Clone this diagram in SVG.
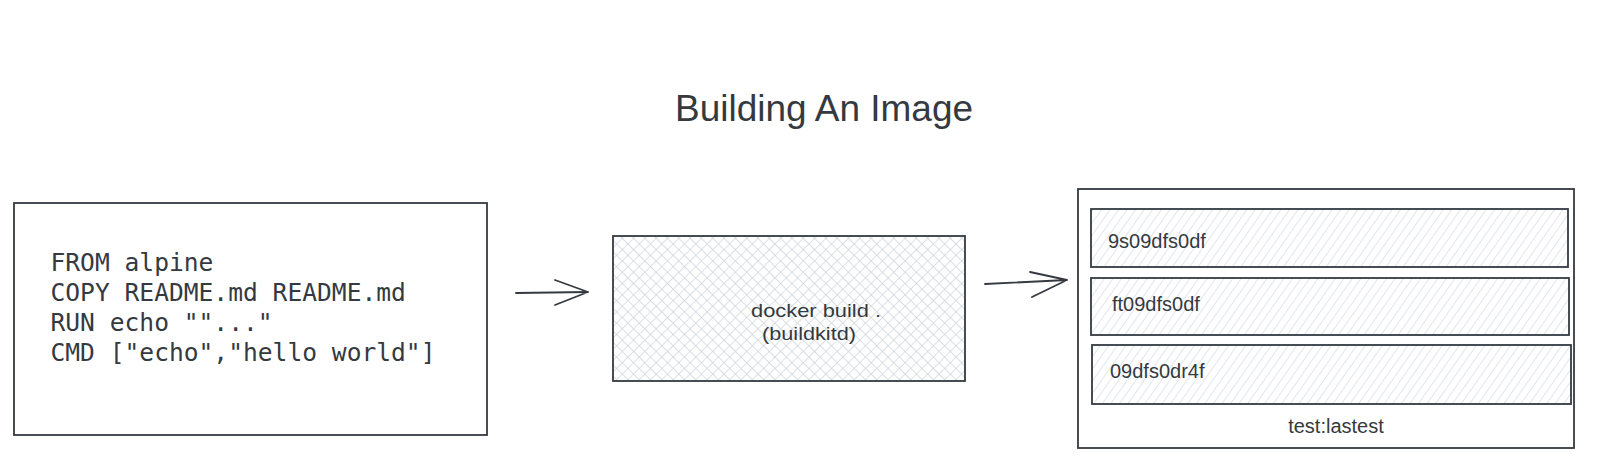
<svg xmlns="http://www.w3.org/2000/svg" width="1600" height="472" viewBox="0 0 1600 472">
  <style>
    .box { fill: none; stroke: #343a40; stroke-width: 1.8; }
    .conn { fill: none; stroke: #343a40; stroke-width: 1.8; stroke-linecap: round; stroke-linejoin: round; }
    .mono { font-family: "DejaVu Sans Mono", "Liberation Mono", monospace; font-size: 24.6px; fill: #343a40; }
    .hand { font-family: "Liberation Sans", "DejaVu Sans", sans-serif; fill: #343a40; }
    .lbl { font-family: "Liberation Sans", Arial, sans-serif; font-size: 20px; fill: #343a40; }
  </style>
  <defs>
    <pattern id="cross" width="8" height="8" patternUnits="userSpaceOnUse" patternTransform="rotate(45)">
      <path d="M0 0 V8 M0 0 H8" stroke="#ced4da" stroke-width="1.4" fill="none"/>
    </pattern>
    <pattern id="diag" width="7" height="7" patternUnits="userSpaceOnUse" patternTransform="rotate(35)">
      <path d="M0 0 V7" stroke="#ced4da" stroke-width="1.2" fill="none"/>
    </pattern>
  </defs>
  <rect width="1600" height="472" fill="#ffffff"/>

  <g id="title">
    <text class="hand" x="675" y="121" font-size="36" textLength="298" lengthAdjust="spacingAndGlyphs">Building An Image</text>
  </g>

  <g id="dockerfile">
    <rect class="box" x="14" y="203" width="473" height="232"/>
    <text class="mono" x="50.5" y="271">FROM alpine</text>
    <text class="mono" x="50.5" y="300.5">COPY README.md README.md</text>
    <text class="mono" x="50.5" y="330.5">RUN echo ""..."</text>
    <text class="mono" x="50.5" y="360.5">CMD ["echo","hello world"]</text>
  </g>

  <g id="build">
    <rect x="613" y="236" width="352" height="145" fill="url(#cross)" stroke="#343a40" stroke-width="1.8"/>
    <text class="hand" x="751" y="317" font-size="19" textLength="130" lengthAdjust="spacingAndGlyphs">docker build .</text>
    <text class="hand" x="762" y="340" font-size="19" textLength="94" lengthAdjust="spacingAndGlyphs">(buildkitd)</text>
  </g>

  <g id="image">
    <rect class="box" x="1078" y="189" width="496" height="259"/>
    <text class="lbl" x="1336" y="433" text-anchor="middle">test:lastest</text>
  </g>

  <g id="layer1">
    <rect x="1091" y="209" width="477" height="58" fill="url(#diag)" stroke="#343a40" stroke-width="1.8"/>
    <text class="lbl" x="1108" y="248">9s09dfs0df</text>
  </g>
  <g id="layer2">
    <rect x="1091" y="278" width="478" height="57" fill="url(#diag)" stroke="#343a40" stroke-width="1.8"/>
    <text class="lbl" x="1112" y="311">ft09dfs0df</text>
  </g>
  <g id="layer3">
    <rect x="1092" y="345" width="479" height="59" fill="url(#diag)" stroke="#343a40" stroke-width="1.8"/>
    <text class="lbl" x="1110" y="378">09dfs0dr4f</text>
  </g>

  <g id="connectors">
    <path class="conn" d="M516 293 L588 292 M555 280 L588 292 L555 305"/>
    <path class="conn" d="M985 284 L1067 280 M1030 272 L1067 280 L1032 297"/>
  </g>
</svg>
